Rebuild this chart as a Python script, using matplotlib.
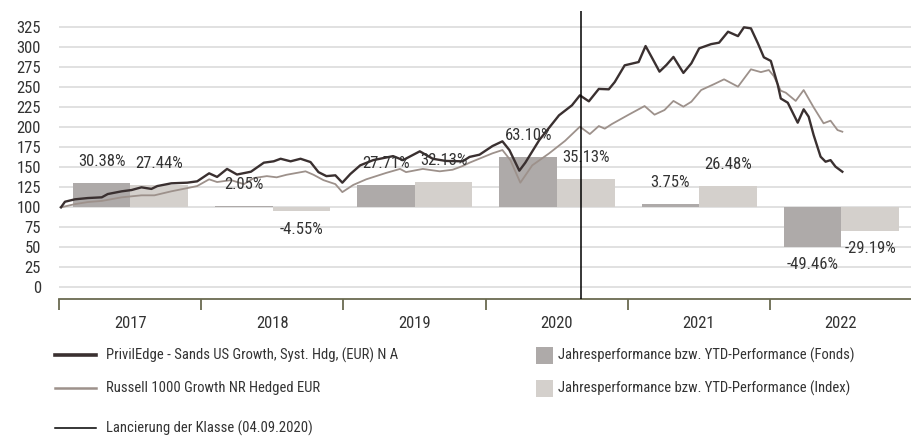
import datetime as dt

import matplotlib
matplotlib.use("Agg")
import matplotlib.pyplot as plt
from matplotlib.lines import Line2D
from matplotlib.patches import Rectangle

plt.rcParams['font.family'] = ['Roboto Condensed', 'Archivo Narrow', 'DejaVu Sans']

# Yearly performance (bars), in percent
years = [2017, 2018, 2019, 2020, 2021, 2022]
fund_perf = [30.38, 2.05, 27.71, 63.10, 3.75, -49.46]
index_perf = [27.44, -4.55, 32.13, 35.13, 26.48, -29.19]

# Indexed performance (start = 100), time in decimal years
fund_t = [2017.014, 2017.042, 2017.112, 2017.203, 2017.301, 2017.343, 2017.441, 2017.510,
          2017.580, 2017.650, 2017.692, 2017.790, 2017.902, 2017.972, 2018.056, 2018.112,
          2018.182, 2018.252, 2018.350, 2018.441, 2018.510, 2018.559, 2018.629, 2018.699,
          2018.769, 2018.825, 2018.881, 2018.944, 2018.993, 2019.049, 2019.119, 2019.210,
          2019.350, 2019.420, 2019.538, 2019.629, 2019.720, 2019.839, 2019.888, 2019.958,
          2020.049, 2020.119, 2020.168, 2020.238, 2020.280, 2020.378, 2020.517, 2020.608,
          2020.664, 2020.727, 2020.797, 2020.867, 2020.909, 2020.979, 2021.077, 2021.126,
          2021.168, 2021.224, 2021.273, 2021.322, 2021.392, 2021.448, 2021.503, 2021.587,
          2021.643, 2021.706, 2021.776, 2021.818, 2021.867, 2021.916, 2021.958, 2022.007,
          2022.056, 2022.077, 2022.126, 2022.196, 2022.238, 2022.273, 2022.308, 2022.357,
          2022.392, 2022.427, 2022.462, 2022.510]
fund_v = [100, 107, 110, 111.6, 112.5, 116.6, 120, 121.6,
          125, 123, 126.6, 130, 130.8, 132.5, 142.5, 138,
          148, 141, 144.5, 155.8, 157.5, 160.7, 157.5, 160.7,
          156.6, 144, 139, 140, 130.8, 141.6, 152.5, 159,
          164, 159, 170, 160.7, 158, 157.5, 163, 165.8,
          176.6, 182.5, 171.6, 145.8, 155.8, 184, 215, 227.5,
          240, 232.5, 248, 247.5, 256.6, 277.5, 281.6, 301.6,
          288, 269.6, 278, 288, 268, 280, 298.7, 304,
          305.8, 319.5, 314, 325, 323.7, 305, 287.5, 283,
          253, 236, 230.8, 205.8, 222.5, 213.3, 190.4, 163.3,
          157, 159, 150.8, 144.5]

index_t = [2017.014, 2017.112, 2017.203, 2017.301, 2017.441, 2017.580, 2017.671, 2017.790,
           2017.902, 2017.972, 2018.056, 2018.112, 2018.210, 2018.301, 2018.371, 2018.462,
           2018.531, 2018.601, 2018.734, 2018.790, 2018.860, 2018.944, 2018.993, 2019.070,
           2019.161, 2019.301, 2019.399, 2019.441, 2019.559, 2019.678, 2019.769, 2019.839,
           2019.888, 2020.049, 2020.119, 2020.175, 2020.245, 2020.329, 2020.448, 2020.559,
           2020.664, 2020.734, 2020.797, 2020.839, 2020.888, 2021.007, 2021.119, 2021.189,
           2021.259, 2021.322, 2021.392, 2021.448, 2021.517, 2021.608, 2021.678, 2021.776,
           2021.867, 2021.937, 2021.993, 2022.028, 2022.077, 2022.112, 2022.182, 2022.238,
           2022.308, 2022.378, 2022.427, 2022.476, 2022.510]
index_v = [100, 104, 106.6, 108, 112.5, 115, 115, 120,
           124, 126.6, 135, 131.6, 134, 129, 136.6, 139,
           137.5, 140.7, 145, 140.7, 134, 129, 119, 128,
           135, 143, 148, 144, 148, 145, 147, 151.6,
           155.8, 167.5, 171.6, 159, 130.8, 152.5, 167.5, 183,
           200.8, 191.6, 201.6, 198.3, 204, 215.8, 226.6, 215.8,
           221.6, 233, 225.8, 232, 246.6, 254, 260, 250.8,
           272.5, 269, 271.6, 264, 245.8, 243.3, 233, 246.6,
           225, 205, 208.3, 196.6, 194.5]

launch_date = dt.date(2020, 9, 4)

fund_name = 'PrivilEdge - Sands US Growth, Syst. Hdg, (EUR) N A'
index_name = 'Russell 1000 Growth NR Hedged EUR'
launch_name = 'Lancierung der Klasse (04.09.2020)'
fund_bar_name = 'Jahresperformance bzw. YTD-Performance (Fonds)'
index_bar_name = 'Jahresperformance bzw. YTD-Performance (Index)'

FUND_COLOR = '#3a3030'
INDEX_COLOR = '#9d918b'
FUND_BAR = '#aeaaa9'
INDEX_BAR = '#d4d0cc'
TEXT = '#333333'
AXIS = '#6a6a50'

W, H = 912, 436


def px(x, y):
    # pixel position (from top-left) -> figure fraction
    return x / W, 1 - y / H


def decimal_year(d):
    start = dt.date(d.year, 1, 1)
    days = (dt.date(d.year + 1, 1, 1) - start).days
    return d.year + (d - start).days / days


fig = plt.figure(figsize=(W / 100, H / 100), dpi=100)
x0, y1 = px(59, 11)
x1, y0 = px(912, 299)
ax = fig.add_axes([x0, y0, x1 - x0, y1 - y0])

ax.set_xlim(2017, 2017 + (912 - 59) / 143)
ax.set_ylim(-14.6, 345.4)

for v in range(0, 326, 25):
    ax.axhline(v, color='#d9d9d9', lw=1.1, zorder=0)

bw = 0.405
for yr, fp, ip in zip(years, fund_perf, index_perf):
    ax.bar(yr + 0.3, fp, width=bw, bottom=100, color=FUND_BAR, zorder=1, linewidth=0)
    ax.bar(yr + 0.3 + bw, ip, width=bw, bottom=100, color=INDEX_BAR, zorder=1, linewidth=0)
    for x, p in ((yr + 0.3, fp), (yr + 0.3 + bw, ip)):
        ax.annotate(f"{p:.2f}%", (x, 100 + p), xytext=(0, 15.5 if p > 0 else -13),
                    textcoords='offset points', ha='center', va='center',
                    fontsize=12, color=TEXT, zorder=4)

ax.plot(index_t, index_v, color=INDEX_COLOR, lw=1.3, zorder=2)
ax.plot(fund_t, fund_v, color=FUND_COLOR, lw=1.7, zorder=3)
ax.axvline(decimal_year(launch_date), color='black', lw=1.1, zorder=5)

for s in ('top', 'right', 'left'):
    ax.spines[s].set_visible(False)
ax.spines['bottom'].set_color(AXIS)
ax.spines['bottom'].set_linewidth(1.3)

ax.set_yticks(range(0, 326, 25))
ax.tick_params(axis='y', length=0, pad=13, labelsize=12, labelcolor=TEXT)
ax.set_xticks(years + [2023])
ax.set_xticklabels([])
ax.set_xticks([y + 0.5 for y in years], [str(y) for y in years], minor=True)
ax.tick_params(axis='x', which='major', length=8, width=1.3, color=AXIS, direction='out')
ax.tick_params(axis='x', which='minor', length=0, pad=12, labelsize=12, labelcolor=TEXT)

# legend, drawn by hand below the axes
rows = [(55, 355, fund_name, FUND_COLOR, 2.6),
        (55, 388, index_name, INDEX_COLOR, 1.8),
        (55, 428, launch_name, 'black', 1.1)]
for x, y, label, color, lw in rows:
    xa, ya = px(x, y)
    xb, _ = px(x + 41, y)
    fig.add_artist(Line2D([xa, xb], [ya, ya], color=color, lw=lw))
    xt, _ = px(x + 51, y)
    fig.text(xt, ya, label, fontsize=10.5, color=TEXT, va='center', ha='left')

for y, label, color in ((355, fund_bar_name, FUND_BAR), (388, index_bar_name, INDEX_BAR)):
    xa, ya = px(536, y + 8.5)
    w, h = 17 / W, 17 / H
    fig.add_artist(Rectangle((xa, ya), w, h, color=color, lw=0))
    xt, yt = px(558, y)
    fig.text(xt, yt, label, fontsize=10.5, color=TEXT, va='center', ha='left')

fig.savefig('out.png', dpi=100)
